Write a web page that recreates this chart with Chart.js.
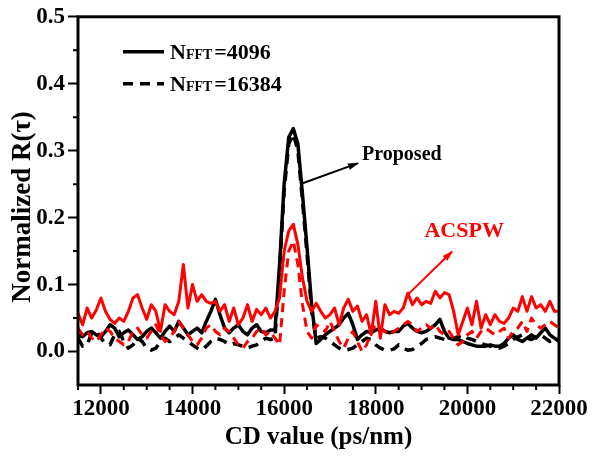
<!DOCTYPE html>
<html>
<head>
<meta charset="utf-8">
<script src="https://cdn.jsdelivr.net/npm/chart.js@4"></script>
<style>
  body { margin: 0; background: #fff; }
  canvas { display: block; }
</style>
</head>
<body>
<canvas id="chart" width="592" height="457"></canvas>
<script>
// CD values, step 100 ps/nm
var cdValues = [];
for (var c = 11500; c <= 22000; c += 100) cdValues.push(c);

// Proposed, NFFT=4096 (black solid)
var proposed4096 = [
  0.025,0.022,0.028,0.030,0.025,0.022,0.030,0.040,0.035,0.022,
  0.028,0.032,0.025,0.018,0.022,0.030,0.035,0.028,0.020,0.030,
  0.038,0.030,0.045,0.035,0.025,0.030,0.035,0.028,0.045,0.060,
  0.078,0.055,0.035,0.028,0.035,0.040,0.030,0.025,0.035,0.040,
  0.030,0.028,0.032,0.032,0.130,0.250,0.320,0.333,0.310,0.235,
  0.155,0.070,0.012,0.018,0.025,0.030,0.035,0.040,0.050,0.057,
  0.040,0.018,0.025,0.030,0.028,0.032,0.035,0.030,0.028,0.030,
  0.030,0.038,0.042,0.035,0.030,0.028,0.030,0.035,0.040,0.048,
  0.030,0.020,0.018,0.018,0.015,0.012,0.010,0.008,0.008,0.008,
  0.010,0.008,0.008,0.012,0.020,0.025,0.018,0.015,0.020,0.025,
  0.020,0.028,0.035,0.025,0.020,0.015
];

// Proposed, NFFT=16384 (black dashed)
var proposed16384 = [
  0.020,0.008,0.010,0.028,0.030,0.020,0.012,0.010,0.025,0.030,
  0.015,0.005,0.010,0.020,0.015,0.005,0.002,0.005,0.015,0.020,
  0.015,0.020,0.025,0.020,0.015,0.010,0.005,0.002,0.008,0.015,
  0.020,0.018,0.015,0.010,0.012,0.010,0.008,0.005,0.008,0.010,
  0.015,0.020,0.018,0.020,0.120,0.240,0.310,0.325,0.300,0.225,
  0.145,0.060,0.020,0.022,0.020,0.015,0.010,0.005,0.002,0.003,
  0.005,0.010,0.015,0.020,0.018,0.010,0.005,0.002,0.002,0.004,
  0.010,0.005,0.002,0.003,0.008,0.012,0.018,0.020,0.022,0.020,
  0.018,0.020,0.020,0.022,0.025,0.020,0.018,0.015,0.012,0.010,
  0.008,0.005,0.005,0.008,0.012,0.018,0.022,0.025,0.020,0.018,
  0.022,0.025,0.020,0.015,0.018,0.020
];

// ACSPW, NFFT=4096 (red solid)
var acspw4096 = [
  0.057,0.040,0.065,0.050,0.062,0.080,0.060,0.048,0.042,0.050,
  0.045,0.060,0.080,0.085,0.065,0.048,0.070,0.060,0.030,0.070,
  0.060,0.055,0.075,0.130,0.065,0.100,0.075,0.085,0.075,0.072,
  0.075,0.060,0.070,0.045,0.065,0.040,0.050,0.070,0.045,0.063,
  0.055,0.065,0.050,0.060,0.080,0.150,0.180,0.190,0.160,0.110,
  0.075,0.060,0.072,0.060,0.050,0.055,0.065,0.040,0.065,0.078,
  0.060,0.068,0.045,0.055,0.025,0.075,0.020,0.070,0.055,0.060,
  0.057,0.065,0.087,0.070,0.080,0.070,0.075,0.072,0.090,0.080,
  0.088,0.085,0.060,0.025,0.045,0.065,0.040,0.075,0.035,0.055,
  0.040,0.055,0.045,0.042,0.050,0.065,0.060,0.082,0.060,0.082,
  0.065,0.070,0.060,0.075,0.060,0.060
];

// ACSPW, NFFT=16384 (red dashed)
var acspw16384 = [
  0.035,0.025,0.030,0.020,0.015,0.025,0.035,0.030,0.020,0.015,
  0.010,0.015,0.030,0.035,0.025,0.020,0.030,0.040,0.025,0.015,
  0.020,0.030,0.045,0.035,0.025,0.015,0.010,0.020,0.035,0.040,
  0.030,0.025,0.035,0.030,0.020,0.010,0.005,0.015,0.020,0.030,
  0.035,0.025,0.030,0.020,0.010,0.090,0.150,0.165,0.130,0.070,
  0.030,0.020,0.040,0.035,0.030,0.045,0.030,0.015,0.005,0.020,
  0.030,0.015,0.000,0.010,0.030,0.040,0.035,0.030,0.025,0.030,
  0.035,0.040,0.045,0.040,0.030,0.035,0.040,0.035,0.040,0.030,
  0.025,0.030,0.020,0.010,0.015,0.025,0.030,0.020,0.030,0.035,
  0.030,0.025,0.030,0.035,0.020,0.030,0.035,0.045,0.030,0.050,
  0.040,0.035,0.040,0.045,0.040,0.035
];

var xTickLabels = [12000, 14000, 16000, 18000, 20000, 22000];
var yTickLabels = [0.0, 0.1, 0.2, 0.3, 0.4, 0.5];

// annotation anchors, in data units
var proposedArrow = [[16390, 0.251], [17600, 0.281]];
var proposedText = [17700, 0.294];
var acspwArrow = [[18700, 0.085], [19660, 0.149]];
var acspwText = [19930, 0.179];

var serif = '"Liberation Serif", "Times New Roman", serif';

function toPoints(ys) {
  return cdValues.map(function (x, i) { return {x: x, y: ys[i]}; });
}

function isMajorX(v) { return xTickLabels.indexOf(v) >= 0; }
function isMajorY(v) {
  var r = Math.round(v * 10) / 10;
  return Math.abs(v - r) < 1e-6;
}

function arrow(ctx, x1, y1, x2, y2, color, head) {
  ctx.save();
  ctx.strokeStyle = color;
  ctx.fillStyle = color;
  ctx.lineWidth = 2;
  ctx.beginPath();
  ctx.moveTo(x1, y1);
  ctx.lineTo(x2, y2);
  ctx.stroke();
  var a = Math.atan2(y2 - y1, x2 - x1);
  ctx.beginPath();
  ctx.moveTo(x2 + 2 * Math.cos(a), y2 + 2 * Math.sin(a));
  ctx.lineTo(x2 - head * Math.cos(a - 0.35), y2 - head * Math.sin(a - 0.35));
  ctx.lineTo(x2 - head * Math.cos(a + 0.35), y2 - head * Math.sin(a + 0.35));
  ctx.closePath();
  ctx.fill();
  ctx.restore();
}

var extras = {
  id: 'extras',
  afterDatasetsDraw: function (chart) {
    var ctx = chart.ctx;
    var area = chart.chartArea;
    var xs = chart.scales.x, ys = chart.scales.y;

    // frame
    ctx.save();
    ctx.strokeStyle = '#000';
    ctx.lineWidth = 3;
    ctx.strokeRect(area.left, area.top, area.right - area.left, area.bottom - area.top);

    // minor ticks
    ctx.lineWidth = 2;
    ctx.beginPath();
    xs.ticks.forEach(function (t) {
      if (isMajorX(t.value)) return;
      var px = xs.getPixelForValue(t.value);
      ctx.moveTo(px, area.bottom);
      ctx.lineTo(px, area.bottom + 5);
    });
    ys.ticks.forEach(function (t) {
      if (isMajorY(t.value)) return;
      var py = ys.getPixelForValue(t.value);
      ctx.moveTo(area.left, py);
      ctx.lineTo(area.left - 5, py);
    });
    ctx.stroke();
    ctx.restore();

    // legend
    var sets = chart.data.datasets;
    var rows = [{ds: sets[3], value: '=4096', dy: 35}, {ds: sets[2], value: '=16384', dy: 67}];
    rows.forEach(function (r) {
      var y = area.top + r.dy;
      ctx.save();
      ctx.strokeStyle = '#000';
      ctx.lineWidth = r.ds.borderWidth;
      ctx.setLineDash(r.ds.borderDash || []);
      ctx.beginPath();
      ctx.moveTo(area.left + 45, y);
      ctx.lineTo(area.left + 86, y);
      ctx.stroke();
      ctx.setLineDash([]);
      ctx.fillStyle = '#000';
      ctx.textBaseline = 'alphabetic';
      var tx = area.left + 92, by = y + 7;
      ctx.font = 'bold 22px ' + serif;
      ctx.fillText('N', tx, by);
      tx += ctx.measureText('N').width;
      ctx.font = 'bold 14px ' + serif;
      ctx.fillText('FFT', tx, by);
      tx += ctx.measureText('FFT').width + 2;
      ctx.font = 'bold 22px ' + serif;
      ctx.fillText(r.value, tx, by);
      ctx.restore();
    });

    // annotations
    arrow(ctx, xs.getPixelForValue(proposedArrow[0][0]), ys.getPixelForValue(proposedArrow[0][1]),
      xs.getPixelForValue(proposedArrow[1][0]), ys.getPixelForValue(proposedArrow[1][1]), '#000', 10);
    arrow(ctx, xs.getPixelForValue(acspwArrow[0][0]), ys.getPixelForValue(acspwArrow[0][1]),
      xs.getPixelForValue(acspwArrow[1][0]), ys.getPixelForValue(acspwArrow[1][1]), '#ff0000', 10);
    ctx.save();
    ctx.font = 'bold 20px ' + serif;
    ctx.textBaseline = 'middle';
    ctx.fillStyle = '#000';
    ctx.textAlign = 'left';
    ctx.fillText('Proposed', xs.getPixelForValue(proposedText[0]), ys.getPixelForValue(proposedText[1]));
    ctx.font = 'bold 22px ' + serif;
    ctx.fillStyle = '#ff0000';
    ctx.textAlign = 'center';
    ctx.fillText('ACSPW', xs.getPixelForValue(acspwText[0]), ys.getPixelForValue(acspwText[1]));
    ctx.restore();

    // y axis title
    ctx.save();
    ctx.font = 'bold 27px ' + serif;
    ctx.fillStyle = '#000';
    ctx.textAlign = 'center';
    ctx.textBaseline = 'middle';
    ctx.translate(23, 207);
    ctx.rotate(-Math.PI / 2);
    ctx.fillText('Normalized R(\u03c4)', 0, 0);
    ctx.restore();
  }
};

var tickGrid = {
  drawOnChartArea: false, drawTicks: true, tickLength: 9, tickWidth: 2,
  tickColor: function (ctx) { return 'rgba(0,0,0,0)'; }
};

new Chart(document.getElementById('chart'), {
  type: 'line',
  data: {
    datasets: [
      {label: 'ACSPW NFFT=16384', data: toPoints(acspw16384), borderColor: '#ff0000', borderWidth: 3, borderDash: [9, 6], order: 1},
      {label: 'ACSPW NFFT=4096', data: toPoints(acspw4096), borderColor: '#ff0000', borderWidth: 3, order: 2},
      {label: 'NFFT=16384', data: toPoints(proposed16384), borderColor: '#000', borderWidth: 3.5, borderDash: [10, 7], order: 3},
      {label: 'NFFT=4096', data: toPoints(proposed4096), borderColor: '#000', borderWidth: 3.5, order: 4}
    ]
  },
  options: {
    responsive: false,
    animation: false,
    layout: {padding: {left: 0, right: 33, top: 15, bottom: 0}},
    elements: {
      point: {radius: 0},
      line: {tension: 0, borderJoinStyle: 'round', fill: false}
    },
    plugins: {legend: {display: false}, tooltip: {enabled: false}},
    scales: {
      x: {
        type: 'linear',
        min: 11500, max: 22000,
        afterFit: function (s) { s.height = 72; },
        grid: {
          drawOnChartArea: false, drawTicks: true, tickLength: 9, tickWidth: 2,
          tickColor: function (c) { return c.tick && isMajorX(c.tick.value) ? '#000' : 'rgba(0,0,0,0)'; }
        },
        border: {display: false},
        ticks: {
          stepSize: 500, autoSkip: false, maxRotation: 0, padding: 1, color: '#000',
          font: {family: serif, size: 23, weight: 'bold'},
          callback: function (v) { return isMajorX(v) ? String(v) : ''; }
        },
        title: {display: true, text: 'CD value (ps/nm)', color: '#000', padding: {top: 0},
          font: {family: serif, size: 25, weight: 'bold'}}
      },
      y: {
        min: -0.05, max: 0.5,
        afterFit: function (s) { s.width = 78; },
        afterBuildTicks: function (s) { s.ticks = s.ticks.filter(function (t) { return t.value > -0.01; }); },
        grid: {
          drawOnChartArea: false, drawTicks: true, tickLength: 10, tickWidth: 2,
          tickColor: function (c) { return c.tick && isMajorY(c.tick.value) ? '#000' : 'rgba(0,0,0,0)'; }
        },
        border: {display: false},
        ticks: {
          stepSize: 0.05, autoSkip: false, padding: 3, color: '#000',
          font: {family: serif, size: 23, weight: 'bold'},
          callback: function (v) {
            var r = Math.round(v * 10) / 10;
            return (isMajorY(v) && yTickLabels.indexOf(r) >= 0) ? r.toFixed(1) : '';
          }
        }
      }
    }
  },
  plugins: [extras]
});
</script>
</body>
</html>
